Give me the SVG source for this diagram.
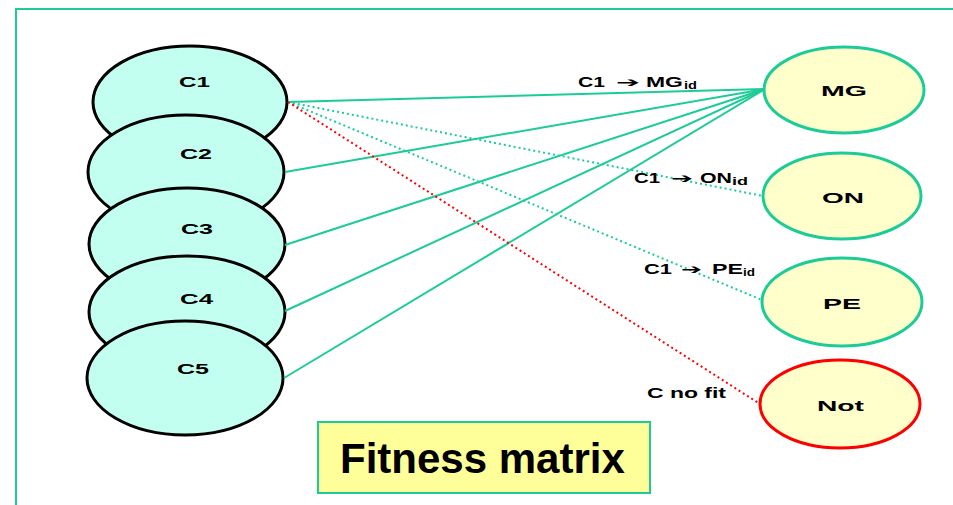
<svg xmlns="http://www.w3.org/2000/svg" width="953" height="505" viewBox="0 0 953 505">
  <style>
    .src { fill: #c2fff0; stroke: #000; stroke-width: 3; }
    .dst { fill: #ffffcc; stroke: #1ccc98; stroke-width: 3; }
    .bad { fill: #ffffcc; stroke: #ff0000; stroke-width: 3; }
    .t { font-family: "Liberation Sans", Arial, sans-serif; font-weight: bold; fill: #000; }
    .lbl { font-family: "Liberation Sans", Arial, sans-serif; font-weight: bold; font-size: 14px; fill: #000; }
    .arr { font-family: "DejaVu Sans", sans-serif; font-weight: bold; font-size: 14px; }
    .sub { font-size: 10px; }
    .solid { stroke: #1ccc98; stroke-width: 2; fill: none; }
    .dot { stroke: #1ccc98; stroke-width: 2; stroke-dasharray: 2 3; fill: none; }
    .reddot { stroke: #ff0000; stroke-width: 2; stroke-dasharray: 2 3; fill: none; }
  </style>
  <rect x="0" y="0" width="953" height="505" fill="#fff"/>
  <!-- frame -->
  <rect x="16" y="9" width="960" height="520" fill="none" stroke="#1ccc98" stroke-width="2"/>

  <!-- source nodes (stacked, later ones drawn on top) -->
  <g id="C1"><ellipse class="src" cx="190" cy="102" rx="97" ry="56"/><text class="t" x="179" y="87" font-size="15" textLength="31" lengthAdjust="spacingAndGlyphs">C1</text></g>
  <g id="C2"><ellipse class="src" cx="186" cy="172" rx="98" ry="57"/><text class="t" x="180" y="159" font-size="15" textLength="32" lengthAdjust="spacingAndGlyphs">C2</text></g>
  <g id="C3"><ellipse class="src" cx="187" cy="244" rx="98" ry="56"/><text class="t" x="181" y="234" font-size="15" textLength="32" lengthAdjust="spacingAndGlyphs">C3</text></g>
  <g id="C4"><ellipse class="src" cx="187" cy="312" rx="98" ry="56"/><text class="t" x="180" y="304" font-size="15" textLength="33" lengthAdjust="spacingAndGlyphs">C4</text></g>
  <g id="C5"><ellipse class="src" cx="185" cy="378" rx="98" ry="57"/><text class="t" x="177" y="374" font-size="15" textLength="32" lengthAdjust="spacingAndGlyphs">C5</text></g>

  <!-- connectors -->
  <g id="connectors">
    <line class="solid" x1="288" y1="102" x2="765" y2="89"/>
    <line class="solid" x1="285" y1="172" x2="765" y2="89"/>
    <line class="solid" x1="285" y1="245" x2="765" y2="89"/>
    <line class="solid" x1="285" y1="311" x2="765" y2="89"/>
    <line class="solid" x1="284" y1="378" x2="765" y2="89"/>
    <line class="dot" x1="288" y1="102" x2="763" y2="196"/>
    <line class="dot" x1="288" y1="102" x2="762" y2="300"/>
    <line class="reddot" x1="288" y1="102" x2="760" y2="404"/>
  </g>

  <!-- connector labels -->
  <text class="lbl" y="87"><tspan x="578" textLength="27" lengthAdjust="spacingAndGlyphs">C1</tspan><tspan class="arr" x="616" textLength="24" lengthAdjust="spacingAndGlyphs">➔</tspan><tspan x="646" textLength="37" lengthAdjust="spacingAndGlyphs">MG</tspan><tspan class="sub" x="684" dy="2" textLength="13" lengthAdjust="spacingAndGlyphs">id</tspan></text>
  <text class="lbl" y="183"><tspan x="634" textLength="26" lengthAdjust="spacingAndGlyphs">C1</tspan><tspan class="arr" x="671" textLength="22" lengthAdjust="spacingAndGlyphs">➔</tspan><tspan x="700" textLength="32" lengthAdjust="spacingAndGlyphs">ON</tspan><tspan class="sub" x="732" dy="2" textLength="16" lengthAdjust="spacingAndGlyphs">id</tspan></text>
  <text class="lbl" y="274"><tspan x="644" textLength="28" lengthAdjust="spacingAndGlyphs">C1</tspan><tspan class="arr" x="681" textLength="21" lengthAdjust="spacingAndGlyphs">➔</tspan><tspan x="712" textLength="31" lengthAdjust="spacingAndGlyphs">PE</tspan><tspan class="sub" x="743" dy="2" textLength="12" lengthAdjust="spacingAndGlyphs">id</tspan></text>
  <text class="lbl" x="647" y="398" textLength="79" lengthAdjust="spacingAndGlyphs">C no fit</text>

  <!-- target nodes -->
  <g id="MG"><ellipse class="dst" cx="844" cy="90" rx="80" ry="43"/><text class="t" x="821" y="96" font-size="15" textLength="46" lengthAdjust="spacingAndGlyphs">MG</text></g>
  <g id="ON"><ellipse class="dst" cx="842" cy="196" rx="79" ry="43"/><text class="t" x="822" y="203" font-size="15" textLength="42" lengthAdjust="spacingAndGlyphs">ON</text></g>
  <g id="PE"><ellipse class="dst" cx="842" cy="302" rx="80" ry="44"/><text class="t" x="823" y="309" font-size="15" textLength="38" lengthAdjust="spacingAndGlyphs">PE</text></g>
  <g id="Not"><ellipse class="bad" cx="840" cy="404" rx="80" ry="44"/><text class="t" x="817" y="411" font-size="15" textLength="47" lengthAdjust="spacingAndGlyphs">Not</text></g>

  <!-- title box -->
  <g id="title">
    <rect x="318" y="422" width="332" height="71" fill="#ffff99" stroke="#1ccc98" stroke-width="2"/>
    <text class="t" x="340" y="473" font-size="42">Fitness matrix</text>
  </g>
</svg>
